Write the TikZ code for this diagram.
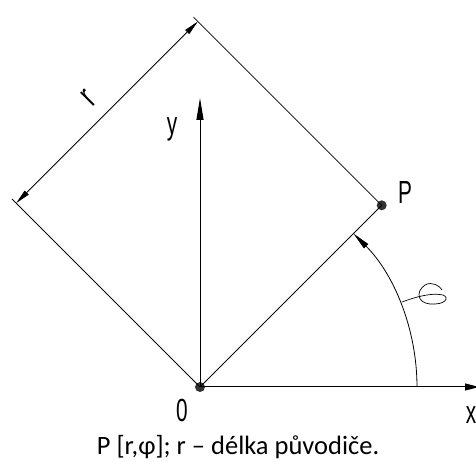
\documentclass[tikz,border=0pt]{standalone}
\usepackage{fontspec}
\setmainfont{Carlito}
\newfontfamily\labfont{Liberation Sans}
\usetikzlibrary{arrows.meta,calc}
\begin{document}
\begin{tikzpicture}[x=1pt,y=1pt,
  thinline/.style={line width=0.8pt,black},
  axisline/.style={line width=1pt,black},
  dimarrow/.style={-{Triangle[length=15pt,width=5.5pt]}},
  dot/.style={circle,fill=black!80,inner sep=0pt,minimum size=10pt},
  lab/.style={font=\fontsize{32}{34}\selectfont\labfont,inner sep=0pt}]
\useasboundingbox (0,0) rectangle (476,462);
\node[dot] (O) at (200,75) {};
\node[dot] (P) at (381.7,256.7) {};
\coordinate (Oc) at (200,75);
\coordinate (Pc) at (381.7,256.7);
% extension lines
\coordinate (L) at ($(Oc)+(135:266)$);
\coordinate (T) at ($(Pc)+(135:266)$);
\draw[thinline] (Oc) -- (L);
\draw[thinline] (Pc) -- (T);
\draw[thinline] (Oc) -- (Pc);
% dimension line
\coordinate (D1) at ($(Oc)+(135:260)$);
\coordinate (D2) at ($(Pc)+(135:260)$);
\coordinate (Dm) at ($(D1)!0.5!(D2)$);
\draw[thinline,dimarrow] (Dm) -- (D1);
\draw[thinline,dimarrow] (Dm) -- (D2);
\node[lab,rotate=45] (r) at (89,364) {\scalebox{0.75}[1.1]{r}};
% axes
\coordinate (Yt) at (200,364);
\coordinate (Xt) at (479,75);
\draw[axisline,-{Triangle[length=22pt,width=7pt]}] (Oc) -- (Yt);
\draw[axisline,-{Triangle[length=14pt,width=7pt]}] (Oc) -- (Xt);
% angle arc
\draw[thinline,-{Triangle[length=18pt,width=6pt]}] ($(Oc)+(217,0)$) arc[start angle=0,end angle=45,radius=217];
% phi symbol (hand drawn)
\draw[line width=0.7pt] (402,160) .. controls (410,163) and (430,170) .. (443,167)
  .. controls (450,164) and (445,157) .. (430,158)
  .. controls (418,159) and (415,170) .. (425,177)
  .. controls (432,181) and (440,176) .. (442,172);
% labels
\node[lab] (ylab) at (172,333) {\scalebox{0.65}[1]{y}};
\node[lab] (Plab) at (405,270) {\scalebox{0.65}[1]{P}};
\node[lab] (zlab) at (182,52) {\scalebox{0.65}[1]{0}};
\node[lab] (xlab) at (471,47) {\scalebox{0.65}[1]{x}};
\node[font=\fontsize{26.5}{30}\selectfont,inner sep=0pt] (cap) at (238,15) {P [r,φ]; r – délka původiče.};
\end{tikzpicture}
\end{document}
